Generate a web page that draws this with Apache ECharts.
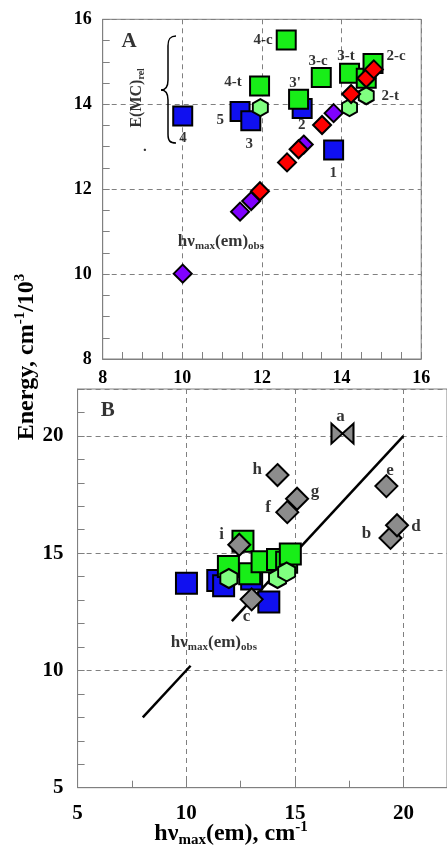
<!DOCTYPE html>
<html><head><meta charset="utf-8">
<script src="https://cdn.jsdelivr.net/npm/echarts@6/dist/echarts.min.js"></script>
<style>html,body{margin:0;padding:0;background:#fff}#c{width:447px;height:848px}</style>
</head><body><div id="c"></div>
<script>
// Panel A / B shared data (blue squares, green squares, light-green hexagons)
const blueX = [10.01, 11.45, 11.72, 13.01, 13.8];
const blueY = [13.72, 13.83, 13.61, 13.9, 12.92];
const greenX = [12.61, 11.94, 12.92, 13.49, 14.2, 14.62, 14.79];
const greenY = [15.51, 14.43, 14.12, 14.63, 14.73, 14.61, 14.96];
const hexX = [11.96, 14.2, 14.62];
const hexY = [13.92, 13.92, 14.2];
// Panel A diamonds
const redX = [11.95, 12.63, 12.92, 13.51, 14.24, 14.62, 14.81];
const redY = [11.95, 12.63, 12.94, 13.51, 14.24, 14.61, 14.82];
const purpleX = [10.01, 11.45, 11.73, 13.05, 13.8];
const purpleY = [10.01, 11.47, 11.72, 13.05, 13.79];
// Panel B gray diamonds
const grayNames = ['b', 'c', 'e', 'd', 'f', 'g', 'h', 'i'];
const grayX = [19.4, 13.01, 19.21, 19.7, 14.65, 15.1, 14.2, 12.44];
const grayY = [15.65, 13.03, 17.86, 16.19, 16.75, 17.32, 18.33, 15.36];
const bowX = [17.19];
const bowY = [20.1];
// Panel B reference line (y = x), broken around the label
const lineSeg1X = [8, 10.2];
const lineSeg2X = [12.1, 20];
// Tick labels
const ticksA = [8, 10, 12, 14, 16];
const ticksB = [5, 10, 15, 20];
// Labels (text annotations) in data coordinates
const labelsA = [
  ['4-c', 12.03, 15.51], ['4-t', 11.27, 14.52], ["3'", 12.83, 14.5], ['3-c', 13.41, 15.02],
  ['3-t', 14.11, 15.14], ['2-c', 15.37, 15.14], ['2-t', 15.22, 14.19], ['5', 10.95, 13.63],
  ['3', 11.68, 13.06], ['2', 13.0, 13.51], ['4', 10.02, 13.2], ['1', 13.79, 12.38], ['.', 9.06, 13.0]
];
const labelsB = [
  ['a', 17.1, 20.84], ['h', 13.27, 18.57], ['g', 15.92, 17.63], ['f', 13.77, 16.94],
  ['e', 19.38, 18.53], ['d', 20.57, 16.13], ['b', 18.29, 15.83], ['i', 11.63, 15.79], ['c', 12.77, 12.3]
];

const FONT = 'Liberation Serif';
const zip = (xs, ys) => xs.map((x, i) => [x, ys[i]]);
const hexPath = 'path://M50,0 L93.3,25 L93.3,75 L50,100 L6.7,75 L6.7,25 Z';
const bowPath = 'path://M0,0 L10,5 L0,10 Z M20,0 L10,5 L20,10 Z';
const border = {borderColor: '#000', borderWidth: 2, opacity: 1};

function sc(xi, data, symbol, size, color, z) {
  return {type: 'scatter', xAxisIndex: xi, yAxisIndex: xi, data, symbol, symbolSize: size,
    itemStyle: Object.assign({color}, border), z, silent: true};
}
function lab(xi, items, size, z) {
  return {type: 'scatter', xAxisIndex: xi, yAxisIndex: xi, symbolSize: 1, z: z || 20, silent: true,
    itemStyle: {color: 'rgba(0,0,0,0)'},
    data: items.map(d => ({name: d[0], value: [d[1], d[2]]})),
    label: {show: true, position: 'inside', formatter: '{b}', color: '#000',
      fontFamily: FONT, fontWeight: 'bold', fontSize: size}};
}
const richObs = {
  m: {fontFamily: FONT, fontWeight: 'bold', fontSize: 17, color: '#000', lineHeight: 20},
  s: {fontFamily: FONT, fontWeight: 'bold', fontSize: 11, color: '#000', lineHeight: 10, verticalAlign: 'bottom'}
};
function obsLabel(xi, x, y) {
  return {type: 'scatter', xAxisIndex: xi, yAxisIndex: xi, symbolSize: 1, z: 20, silent: true,
    itemStyle: {color: 'rgba(0,0,0,0)'}, data: [[x, y]],
    label: {show: true, position: 'inside', formatter: '{m|hν}{s|max}{m|(em)}{s|obs}', rich: richObs}};
}

function axisCommon(min, max, interval, minorSplit, margin, isB, fs) {
  return {type: 'value', min, max, interval,
    axisLine: {show: true, onZero: false, lineStyle: {color: '#808080', width: 1}},
    axisTick: {show: true, inside: true, length: 7, lineStyle: {color: '#808080'}},
    minorTick: {show: true, splitNumber: minorSplit, length: 7, lineStyle: {color: '#808080'}},
    splitLine: {show: true, lineStyle: {color: '#808080', type: [5, 4], width: 1}},
    axisLabel: {color: '#000', fontFamily: FONT, fontWeight: 'bold', fontSize: fs, margin,
      showMaxLabel: !isB,
      formatter: v => ((isB ? ticksB : ticksA).indexOf(v) >= 0 ? String(v) : '')}
  };
}

const braceStyle = {stroke: '#000', fill: null, lineWidth: 1.5};
function bez(x1, y1, cx1, cy1, cx2, cy2, x2, y2) {
  return {type: 'bezierCurve', silent: true, z: 30,
    shape: {x1, y1, cpx1: cx1, cpy1: cy1, cpx2: cx2, cpy2: cy2, x2, y2}, style: braceStyle};
}
function seg(x1, y1, x2, y2) {
  return {type: 'line', silent: true, z: 30, shape: {x1, y1, x2, y2}, style: braceStyle};
}

const chart = echarts.init(document.getElementById('c'), null, {renderer: 'canvas'});
chart.setOption({
  animation: false,
  backgroundColor: '#fff',
  grid: [
    {left: 102.7, top: 19.3, width: 318.5, height: 339.7, show: true, borderColor: '#808080', borderWidth: 1},
    {left: 77.6, top: 389, width: 372.8, height: 398.7, show: true, borderColor: '#808080', borderWidth: 1}
  ],
  xAxis: [
    Object.assign(axisCommon(8, 16, 2, 4, 10, false, 18), {gridIndex: 0}),
    Object.assign(axisCommon(5, 22, 5, 2, 15, true, 21), {gridIndex: 1})
  ],
  yAxis: [
    Object.assign(axisCommon(8, 16, 2, 4, 11, false, 18), {gridIndex: 0}),
    Object.assign(axisCommon(5, 22, 5, 5, 14, true, 21), {gridIndex: 1})
  ],
  series: [
    // Panel A
    sc(0, zip(blueX, blueY), 'rect', 19, '#1010f0', 3),
    sc(0, zip(greenX, greenY), 'rect', 19, '#18ee18', 4),
    sc(0, zip(hexX, hexY), hexPath, [15, 17], '#80ff80', 5),
    sc(0, zip(purpleX, purpleY), 'diamond', 18, '#8000ff', 6),
    sc(0, zip(redX, redY), 'diamond', 18, '#ff0000', 7),
    lab(0, labelsA, 15),
    lab(0, [['A', 8.66, 15.47]], 21),
    obsLabel(0, 10.97, 10.76),
    {type: 'scatter', xAxisIndex: 0, yAxisIndex: 0, symbolSize: 1, z: 20, silent: true,
      itemStyle: {color: 'rgba(0,0,0,0)'}, data: [[8.86, 14.15]],
      label: {show: true, position: 'inside', rotate: 90,
        formatter: '{m|E(MC)}{s|rel}',
        rich: {m: {fontFamily: FONT, fontWeight: 'bold', fontSize: 16, color: '#000', lineHeight: 19},
               s: {fontFamily: FONT, fontWeight: 'bold', fontSize: 10, color: '#000', lineHeight: 9, verticalAlign: 'bottom'}}}},
    // Panel B
    {type: 'line', xAxisIndex: 1, yAxisIndex: 1, data: zip(lineSeg1X, lineSeg1X), symbol: 'none',
      lineStyle: {color: '#000', width: 2.5}, z: 1, silent: true},
    {type: 'line', xAxisIndex: 1, yAxisIndex: 1, data: zip(lineSeg2X, lineSeg2X), symbol: 'none',
      lineStyle: {color: '#000', width: 2.5}, z: 1, silent: true},
    sc(1, zip(blueX, blueY), 'rect', 21, '#1010f0', 3),
    sc(1, zip(greenX, greenY), 'rect', 21, '#18ee18', 4),
    sc(1, zip(hexX, hexY), hexPath, [17, 19], '#80ff80', 5),
    sc(1, zip(grayX, grayY), 'diamond', 22, '#8c8c8c', 6),
    sc(1, zip(bowX, bowY), bowPath, [22, 20], '#8c8c8c', 6),
    lab(1, labelsB.filter(d => d[0] !== 'c'), 17),
    lab(1, labelsB.filter(d => d[0] === 'c'), 17, 2),
    lab(1, [['B', 6.39, 21.06]], 21),
    obsLabel(1, 11.27, 11.2)
  ],
  graphic: [
    bez(176, 36, 170, 36, 168, 39, 168, 46),
    seg(168, 46, 168, 80),
    bez(168, 80, 168, 87, 166, 90, 161, 90),
    bez(161, 90, 166, 90, 168, 93, 168, 100),
    seg(168, 100, 168, 134),
    bez(168, 134, 168, 141, 170, 143, 176, 143),
    {type: 'text', x: 27, y: 357, rotation: Math.PI / 2, silent: true, z: 30,
      style: {text: '{a|Energy, cm}{p|-1}{a|/10}{p|3}', align: 'center', verticalAlign: 'middle',
        rich: {a: {fontFamily: FONT, fontWeight: 'bold', fontSize: 24, fill: '#000', lineHeight: 28},
               p: {fontFamily: FONT, fontWeight: 'bold', fontSize: 15, fill: '#000', lineHeight: 15, verticalAlign: 'top'}}}},
    {type: 'text', x: 231, y: 834, silent: true, z: 30,
      style: {text: '{a|hν}{s|max}{a|(em), cm}{p|-1}', align: 'center', verticalAlign: 'middle',
        rich: {a: {fontFamily: FONT, fontWeight: 'bold', fontSize: 24, fill: '#000', lineHeight: 28},
               s: {fontFamily: FONT, fontWeight: 'bold', fontSize: 15, fill: '#000', lineHeight: 14, verticalAlign: 'bottom'},
               p: {fontFamily: FONT, fontWeight: 'bold', fontSize: 15, fill: '#000', lineHeight: 15, verticalAlign: 'top'}}}}
  ]
});
</script></body></html>
